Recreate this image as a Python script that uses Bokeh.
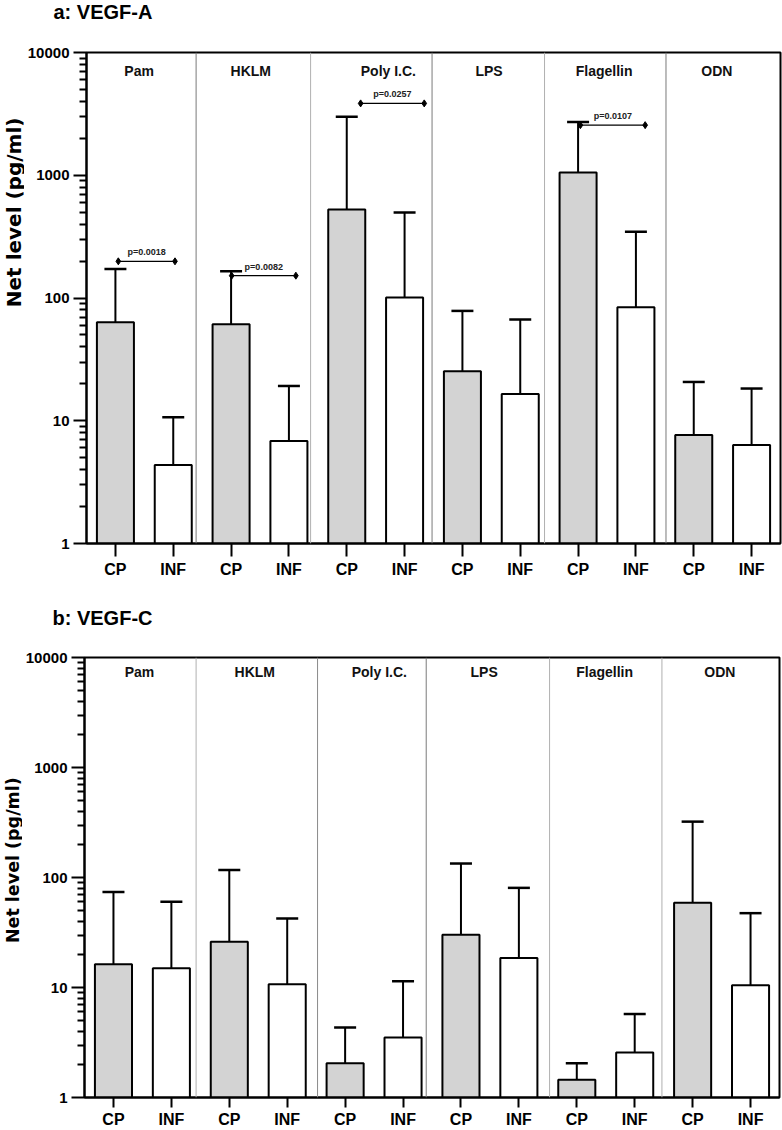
import math
from bokeh.plotting import figure
from bokeh.models import Range1d, FixedTicker, PrintfTickFormatter, Span
from bokeh.layouts import column, row
from bokeh.embed import file_html
from bokeh.resources import INLINE
from bokeh.core.properties import value

# ---------------- data ----------------
groups = ["Pam", "HKLM", "Poly I.C.", "LPS", "Flagellin", "ODN"]
conditions = ["CP", "INF"]

# panel a: VEGF-A (mean and upper error limit, pg/ml)
vegfa_cp = [63.5, 61.2, 526, 25.3, 1052, 7.67]
vegfa_cp_upper = [172, 165, 2990, 78.5, 2720, 20.7]
vegfa_inf = [4.37, 6.85, 101, 16.5, 84, 6.36]
vegfa_inf_upper = [10.7, 19.2, 498, 66.8, 346, 18.3]

# panel b: VEGF-C
vegfc_cp = [16.3, 26.0, 2.05, 30.2, 1.45, 59]
vegfc_cp_upper = [74, 117, 4.32, 134, 2.05, 322]
vegfc_inf = [15.0, 10.7, 3.51, 18.5, 2.56, 10.5]
vegfc_inf_upper = [60.2, 42.4, 11.4, 80.5, 5.74, 47.4]

# significance annotations (panel a)
pvalue_labels = ["p=0.0018", "p=0.0082", "p=0.0257", "p=0.0107"]
bracket_y = [199, 152, 3850, 2560]
bracket_x0 = [0.05, 2.01, 4.24, 8.04]
bracket_x1 = [1.03, 3.12, 5.34, 9.16]

y_major = [1, 10, 100, 1000, 10000]
y_label = "Net level (pg/ml)"

FONT = "Liberation Sans"
W = 782


def blank(width, height):
    p = figure(width=width, height=height, x_range=Range1d(0, width), y_range=Range1d(0, height),
               output_backend="svg", toolbar_location=None, min_border=0,
               x_axis_location=None, y_axis_location=None)
    p.grid.visible = False
    p.outline_line_color = None
    p.background_fill_color = "white"
    p.border_fill_color = "white"
    return p


def header(text, height, x, y_from_top):
    p = blank(W, height)
    p.text(x=[x], y=[height - y_from_top], text=[text], text_font=value(FONT),
           text_font_style="bold", text_font_size="20px", text_align="left",
           text_baseline="middle", text_color="black")
    return p


def ylabel_fig(width, height, cx, cy_from_top, size):
    p = blank(width, height)
    p.text(x=[cx], y=[height - cy_from_top], text=[y_label], angle=math.pi / 2,
           text_font=value("DejaVu Sans"), text_font_style="bold", text_font_size=size,
           text_align="center", text_baseline="middle", text_color="black")
    return p


def make_panel(cp, cp_up, inf, inf_up, width, H, mb_top, mb_bottom, mb_left, mb_right,
               x_tick_out, x_standoff, seps, sep_colors, grp_x, grp_dy):
    p = figure(width=width, height=H, x_range=Range1d(-0.5, 11.5), y_range=Range1d(1, 10000),
               y_axis_type="log", output_backend="svg", toolbar_location=None,
               min_border_top=mb_top, min_border_bottom=mb_bottom,
               min_border_left=mb_left, min_border_right=mb_right)
    p.grid.visible = False
    p.outline_line_color = "black"
    p.outline_line_width = 2
    p.outline_line_alpha = 1.0
    p.background_fill_color = "white"
    p.border_fill_color = "white"

    for s, c in zip(seps, sep_colors):
        p.add_layout(Span(location=s, dimension="height", line_color=c, line_width=1))

    xs_cp = [2 * i for i in range(len(groups))]
    xs_inf = [2 * i + 1 for i in range(len(groups))]
    cap = 0.19
    for xs, vals, ups, fill in ((xs_cp, cp, cp_up, "#d3d3d3"), (xs_inf, inf, inf_up, "white")):
        p.segment(x0=xs, y0=vals, x1=xs, y1=ups, line_color="black", line_width=2)
        p.segment(x0=[x - cap for x in xs], y0=ups, x1=[x + cap for x in xs], y1=ups,
                  line_color="black", line_width=2.5)
        p.vbar(x=xs, top=vals, bottom=1, width=0.64, fill_color=fill,
               line_color="black", line_width=2)

    p.text(x=grp_x, y=[10000] * len(groups), text=groups, y_offset=grp_dy,
           text_font=value(FONT), text_font_style="bold", text_font_size="14px",
           text_align="center", text_baseline="middle", text_color="#111111")

    # y axis
    yax = p.yaxis[0]
    yax.ticker = FixedTicker(ticks=y_major,
                             minor_ticks=[m * 10 ** k for k in range(4) for m in range(2, 10)])
    yax.formatter = PrintfTickFormatter(format="%d")
    yax.major_tick_out = 13
    yax.major_tick_in = 0
    yax.minor_tick_out = 7
    yax.minor_tick_in = 0
    yax.axis_line_width = 2
    yax.major_tick_line_width = 2
    yax.minor_tick_line_width = 2
    yax.major_label_text_font = FONT
    yax.major_label_text_font_style = "bold"
    yax.major_label_text_font_size = "15px"
    yax.major_label_text_color = "black"
    yax.major_label_standoff = 4

    # x axis
    xax = p.xaxis[0]
    xax.ticker = FixedTicker(ticks=list(range(12)))
    xax.major_label_overrides = {i: conditions[i % 2] for i in range(12)}
    xax.major_tick_out = x_tick_out
    xax.major_tick_in = 0
    xax.minor_tick_out = 0
    xax.minor_tick_in = 0
    xax.axis_line_width = 2
    xax.major_tick_line_width = 2
    xax.major_label_text_font = FONT
    xax.major_label_text_font_style = "bold"
    xax.major_label_text_font_size = "16px"
    xax.major_label_text_color = "black"
    xax.major_label_standoff = x_standoff
    return p


# ---------- panel a ----------
head_a = header("a: VEGF-A", 30, 53, 11)
HA = 565
pa = make_panel(vegfa_cp, vegfa_cp_upper, vegfa_inf, vegfa_inf_upper,
                width=W - 24, H=HA, mb_top=22, mb_bottom=52, mb_left=59, mb_right=2,
                x_tick_out=13, x_standoff=4,
                seps=[1.395, 3.375, 5.475, 7.42, 9.52],
                sep_colors=["#7a7a7a", "#b0b0b0", "#7a7a7a", "#b0b0b0", "#7a7a7a"],
                grp_x=[0.41, 2.34, 4.72, 6.46, 8.45, 10.40], grp_dy=18)
pa.segment(x0=bracket_x0, y0=bracket_y, x1=bracket_x1, y1=bracket_y,
           line_color="black", line_width=1.2)
pa.scatter(x=bracket_x0 + bracket_x1, y=bracket_y + bracket_y, marker="diamond",
           size=7, fill_color="black", line_color="black")
pa.text(x=[(a + b) / 2 for a, b in zip(bracket_x0, bracket_x1)], y=bracket_y,
        text=pvalue_labels, y_offset=-9, text_font=value(FONT), text_font_style="bold",
        text_font_size="9px", text_align="center", text_baseline="middle",
        text_color="#222222")
ylab_a = ylabel_fig(24, HA, 13, 214 - 30, "20px")

# ---------- panel b ----------
head_b = header("b: VEGF-C", 40, 52, 22)
HB = 495
pb = make_panel(vegfc_cp, vegfc_cp_upper, vegfc_inf, vegfc_inf_upper,
                width=W - 22, H=HB, mb_top=22, mb_bottom=29, mb_left=59, mb_right=3,
                x_tick_out=10, x_standoff=3,
                seps=[1.427, 3.524, 5.40, 7.53, 9.47],
                sep_colors=["#b0b0b0", "#8a8a8a", "#7a7a7a", "#b0b0b0", "#b0b0b0"],
                grp_x=[0.45, 2.44, 4.59, 6.40, 8.48, 10.47], grp_dy=14)
ylab_b = ylabel_fig(22, HB, 12, 863 - 635, "17.5px")

layout = column(head_a, row(ylab_a, pa, spacing=0), head_b, row(ylab_b, pb, spacing=0),
                spacing=0)
open("out.html", "w").write(file_html(layout, INLINE, title="VEGF"))
